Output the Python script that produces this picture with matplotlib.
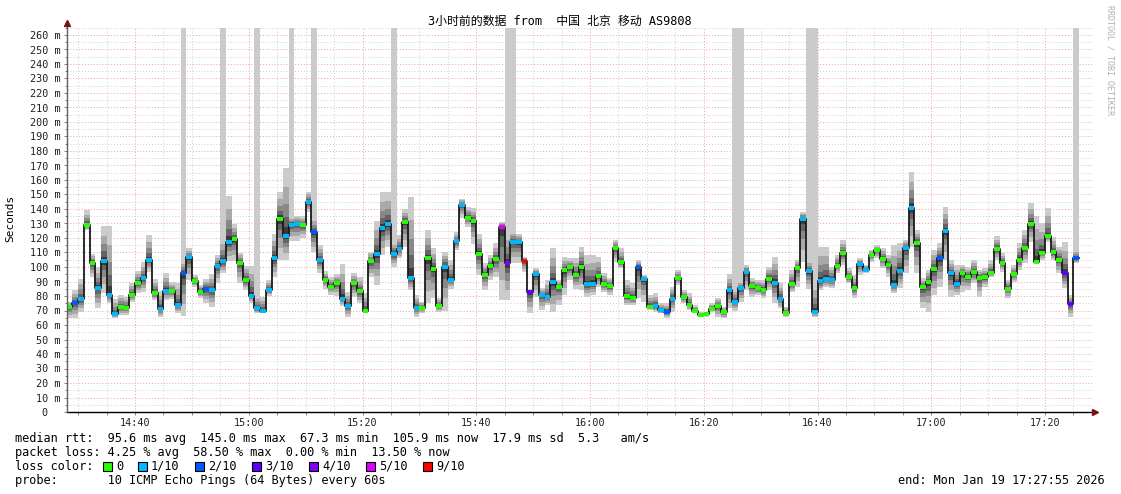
import numpy as np
import matplotlib
matplotlib.use("Agg")
import matplotlib.pyplot as plt
from matplotlib.patches import Rectangle

mono = ["DejaVu Sans Mono", "Noto Sans CJK SC"]
plt.rcParams["font.family"] = mono

# one step per minute, starting 14:28 (minutes after 14:00)
start_min = 28
med = [72.2, 75, 77.7, 129, 102.8, 85.7, 104, 81, 67.6, 72.2,
       72, 80.5, 88.7, 92.2, 104.6, 81.8, 71.3, 83.7, 83.2, 73.8,
       95.9, 106.7, 90.1, 83, 84.6, 84, 101, 104, 117.2, 119.3,
       103, 91.3, 80, 71.7, 69.7, 84, 106, 133.3, 121.4, 129.2,
       129.9, 129, 145, 124, 104.6, 91.3, 86.4, 89, 78, 72.9,
       88.7, 83.2, 69.7, 103.9, 108.7, 126.7, 129.4, 109, 112.6, 131,
       92.2, 71.7, 72, 106, 98.9, 73.1, 100.2, 91, 117.7, 143,
       134, 132, 109.2, 94.7, 100.7, 105.5, 127.8, 102.8, 117.5, 117,
       104, 82.8, 95.2, 81, 79.5, 89.7, 86.4, 97.7, 100, 94.3,
       100.2, 88, 88.3, 93.6, 88, 86.9, 112.9, 103.2, 79.8, 78.4,
       100.2, 92, 72.6, 73.1, 70.1, 69.2, 78, 92.4, 79.3, 74,
       69.9, 67.1, 67.6, 71, 73.3, 68.7, 83.9, 76.1, 85.5, 96.8,
       86.7, 85.3, 84.4, 92, 89.2, 78.2, 68.5, 88.1, 99.3, 133.3,
       97, 68.7, 90.1, 91.7, 91.3, 101, 109.4, 92.9, 85.8, 102,
       98.2, 108.3, 111.7, 105.7, 101.6, 87.6, 97.5, 113.1, 140.9, 116.8,
       86, 89.4, 98.6, 106, 124.6, 95.6, 88.3, 96.1, 93.3, 96.3,
       92.7, 93.3, 96.1, 112.7, 103, 85.1, 94.9, 105.1, 113.1, 129.7,
       103.2, 109.7, 121.2, 110.1, 105.1, 95.6, 74.3, 106]

lo = [65, 65, 69, 125.5, 93, 71.5, 82, 75, 65, 67,
      67, 76, 82, 83, 96.8, 77, 65.3, 77, 78, 68,
      66, 91, 86.4, 78.4, 75, 72.6, 88.7, 95.6, 104, 104,
      89, 84, 75, 68, 68, 80, 93, 105, 105, 118,
      118, 120, 138, 110, 96, 85, 81, 80, 73, 65.7,
      79.5, 75, 68, 93, 87.6, 108, 114, 100, 106, 114,
      84, 65.7, 68, 75, 78.4, 69, 70, 85, 111.7, 133.6,
      127.8, 116, 94.5, 84, 91, 93.3, 77, 77, 103, 102.5,
      96.8, 68, 79.5, 70.3, 73.8, 69, 73.8, 80.7, 91, 85,
      84, 79.5, 80.7, 86.4, 83, 80.7, 103.7, 99, 73.8, 73.8,
      78.4, 76, 70.3, 69, 68, 64.6, 69.2, 87.6, 75, 70.3,
      69.2, 65.7, 65.7, 69.2, 65.7, 64.6, 71.5, 70, 76, 84,
      79.5, 80.7, 78.4, 84, 75, 71.5, 65.7, 83, 86.4, 103.7,
      85, 65.7, 84, 86.4, 85.3, 95.6, 101.4, 88.7, 78.4, 94.5,
      95.6, 103.7, 106, 99, 93.3, 81.8, 85.3, 95.6, 114, 95.6,
      71.5, 69.2, 80.7, 86.4, 104.8, 79.5, 80.7, 83, 84, 88.7,
      79.5, 86.4, 93.3, 104.8, 96.8, 78.4, 89.9, 98, 102.5, 117.5,
      102.5, 104.8, 117.5, 104.8, 95.6, 85.3, 65.7, 102.5]

hi = [76, 84, 92, 139, 109, 100, 128, 128, 78, 81,
      79.5, 89, 97.5, 103.4, 122, 91.7, 83.7, 95.6, 89.7, 88.7,
      104, 113, 94.5, 87.6, 92, 95, 108, 120, 149, 130,
      110, 101, 101, 80, 79.5, 91, 123, 152, 168, 135,
      135, 135, 152, 135, 115, 97, 93, 95, 102, 83,
      95.6, 93, 82, 110.6, 132, 152, 152, 118, 122, 140,
      148.5, 80.7, 76, 125.5, 113, 78.4, 110.6, 105, 124, 147,
      141.6, 140.5, 123, 102.5, 108.3, 116.3, 131, 125, 125, 123,
      107, 85, 99, 85.3, 91, 112.9, 91, 107, 106, 106,
      114, 108, 108, 107, 95.6, 92.2, 118.6, 112.9, 91, 88.7,
      104.8, 94.5, 80.7, 81.8, 75, 75, 86.4, 97.9, 84, 81.8,
      73.8, 69.2, 69.2, 75, 78.4, 72.6, 95, 85, 90, 101.4,
      92.2, 91, 91, 100.2, 107, 88.7, 72.6, 98, 104.8, 138,
      105, 90, 114, 114, 100.2, 108.3, 118.6, 99, 94.5, 106,
      101.4, 111.7, 115, 113, 108.3, 115, 116.3, 118.6, 165.8, 125.5,
      92.2, 97.9, 111.7, 116.3, 141.6, 104.8, 101.4, 101.4, 100.2, 104.8,
      97.9, 99, 104.8, 121.4, 109.4, 91, 101.4, 116.3, 125.5, 144.4,
      135.2, 130.1, 140.5, 120.9, 114, 117.5, 80.7, 112]

# steps where one ping went off the top of the graph
spikes = [20, 27, 33, 39, 43, 57, 77, 78, 117, 118, 130, 131, 177]

# lost pings out of 10 per step
loss = [0, 2, 1, 0, 0, 1, 1, 1, 1, 0,
        0, 0, 0, 1, 1, 0, 1, 1, 0, 1,
        2, 1, 0, 0, 2, 1, 1, 1, 1, 0,
        0, 0, 1, 1, 1, 1, 1, 0, 1, 1,
        1, 0, 1, 2, 1, 0, 0, 0, 1, 1,
        0, 0, 0, 0, 1, 1, 1, 1, 1, 0,
        1, 1, 0, 0, 0, 0, 1, 1, 1, 1,
        0, 0, 0, 0, 0, 0, 5, 4, 1, 1,
        9, 3, 1, 1, 1, 1, 0, 0, 0, 0,
        0, 1, 1, 0, 0, 0, 0, 0, 0, 0,
        2, 1, 0, 1, 1, 2, 1, 0, 0, 0,
        0, 0, 0, 0, 0, 0, 1, 1, 1, 1,
        0, 0, 0, 0, 1, 1, 0, 0, 0, 1,
        1, 1, 1, 1, 1, 0, 0, 0, 0, 1,
        1, 0, 0, 0, 0, 1, 1, 1, 1, 0,
        0, 0, 0, 2, 1, 1, 1, 0, 0, 0,
        0, 0, 0, 0, 0, 0, 0, 0, 0, 0,
        0, 0, 0, 0, 0, 3, 3, 2]

loss_colors = {0: "#26ff00", 1: "#00b8ff", 2: "#0059ff", 3: "#5e00ff",
               4: "#7e00ff", 5: "#dd00ff", 9: "#ff0000"}
loss_labels = ["0", "1/10", "2/10", "3/10", "4/10", "5/10", "9/10"]
loss_keys = [0, 1, 2, 3, 4, 5, 9]

xtick_pos = [40, 60, 80, 100, 120, 140, 160, 180, 200]
xtick_labels = ["14:40", "15:00", "15:20", "15:40", "16:00", "16:20", "16:40", "17:00", "17:20"]
ytick_pos = list(range(0, 261, 10))
ytick_labels = ["0\u00a0\u00a0"] + [f"{v} m" for v in ytick_pos[1:]]

W, H = 1121, 494
fig = plt.figure(figsize=(W / 100, H / 100), dpi=100)
fig.patch.set_facecolor("white")
ax = fig.add_axes([67 / W, 82 / H, 1025 / W, 384.25 / H])
ax.set_xlim(28.04, 208.26)
ax.set_ylim(0, 265)

x = np.arange(len(med)) + start_min
med_a = np.array(med)
lo_a = np.array(lo)
hi_a = np.array(hi)

# smoke layers
scales = [1.0, 0.72, 0.48, 0.28, 0.13]
shades = ["#cbcbcb", "#a9a9a9", "#888888", "#646464", "#3a3a3a"]
sp = np.array(spikes)
ax.bar(x[sp], 270 - lo_a[sp], bottom=lo_a[sp], width=1, align="edge",
       color="#cbcbcb", linewidth=0, antialiased=False, zorder=2)
for s, c in zip(scales, shades):
    b = med_a - (med_a - lo_a) * s
    t = med_a + (hi_a - med_a) * s
    ax.bar(x, t - b, bottom=b, width=1, align="edge", color=c,
           linewidth=0, antialiased=False, zorder=2)

# median line
xe = np.append(x, x[-1] + 1)
ax.step(xe, np.append(med_a, med_a[-1]), where="post", color="#1a1a1a",
        lw=1.3, zorder=3)
ax.hlines(med_a, x, x + 1, colors=[loss_colors[l] for l in loss], lw=2.8,
          zorder=4)

# grid and ticks
ax.set_xticks(xtick_pos)
ax.set_xticklabels(xtick_labels)
ax.set_xticks(np.arange(30, 208, 5), minor=True)
ax.set_yticks(ytick_pos)
ax.set_yticklabels(ytick_labels)
ax.set_yticks(np.arange(5, 266, 10), minor=True)
ax.set_axisbelow(True)
ax.grid(which="minor", color="#cfcfcf", lw=0.7, ls=(0, (1, 2)))
ax.grid(which="major", color="#f2a0a0", lw=0.7, ls=(0, (1, 2)))
ax.tick_params(which="both", direction="out", length=2, width=0.7,
               color="#808080", labelsize=7.3, labelcolor="#202020", pad=2.5)
ax.tick_params(axis="y", which="minor", length=1.5)
for sp_ in ax.spines.values():
    sp_.set_visible(False)
ax.plot([0, 1.002], [0, 0], transform=ax.transAxes, color="black", lw=1,
        clip_on=False, zorder=5)
ax.plot([0, 0], [0, 1.012], transform=ax.transAxes, color="#606060", lw=1,
        clip_on=False, zorder=5)
ax.plot([1.0025], [0], transform=ax.transAxes, marker=">", ms=4,
        color="#7a1010", clip_on=False, zorder=6)
ax.plot([0], [1.013], transform=ax.transAxes, marker="^", ms=4,
        color="#7a1010", clip_on=False, zorder=6)

def fy(py):
    return 1 - py / H

fig.text(560 / W, fy(21), "3小时前的数据 from  中国 北京 移动 AS9808",
         ha="center", va="center", fontsize=8.6, family=mono)
fig.text(10 / W, fy(218), "Seconds", rotation=90, ha="center", va="center",
         fontsize=8)
fig.text(1110 / W, fy(5), "RRDTOOL / TOBI OETIKER", rotation=270,
         ha="center", va="top", fontsize=6, color="#b0b0b0")

fs = 8.55
fig.text(15 / W, fy(438), "median rtt:  95.6 ms avg  145.0 ms max  67.3 ms min  105.9 ms now  17.9 ms sd  5.3   am/s",
         va="center", fontsize=fs)
fig.text(15 / W, fy(452), "packet loss: 4.25 % avg  58.50 % max  0.00 % min  13.50 % now",
         va="center", fontsize=fs)
fig.text(15 / W, fy(466), "loss color:", va="center", fontsize=fs)
label_px = [116, 151, 208, 265, 322, 379, 436]
for k, lab, px in zip(loss_keys, loss_labels, label_px):
    fig.patches.append(Rectangle(((px - 13) / W, fy(470.5)), 9 / W, 9 / H,
                                 transform=fig.transFigure, facecolor=loss_colors[k],
                                 edgecolor="black", lw=0.8))
    fig.text(px / W, fy(466), lab, va="center", fontsize=fs)
fig.text(15 / W, fy(480), "probe:       10 ICMP Echo Pings (64 Bytes) every 60s",
         va="center", fontsize=fs)
fig.text(1105 / W, fy(480), "end: Mon Jan 19 17:27:55 2026", ha="right",
         va="center", fontsize=fs)

fig.savefig("out.png", dpi=100)
